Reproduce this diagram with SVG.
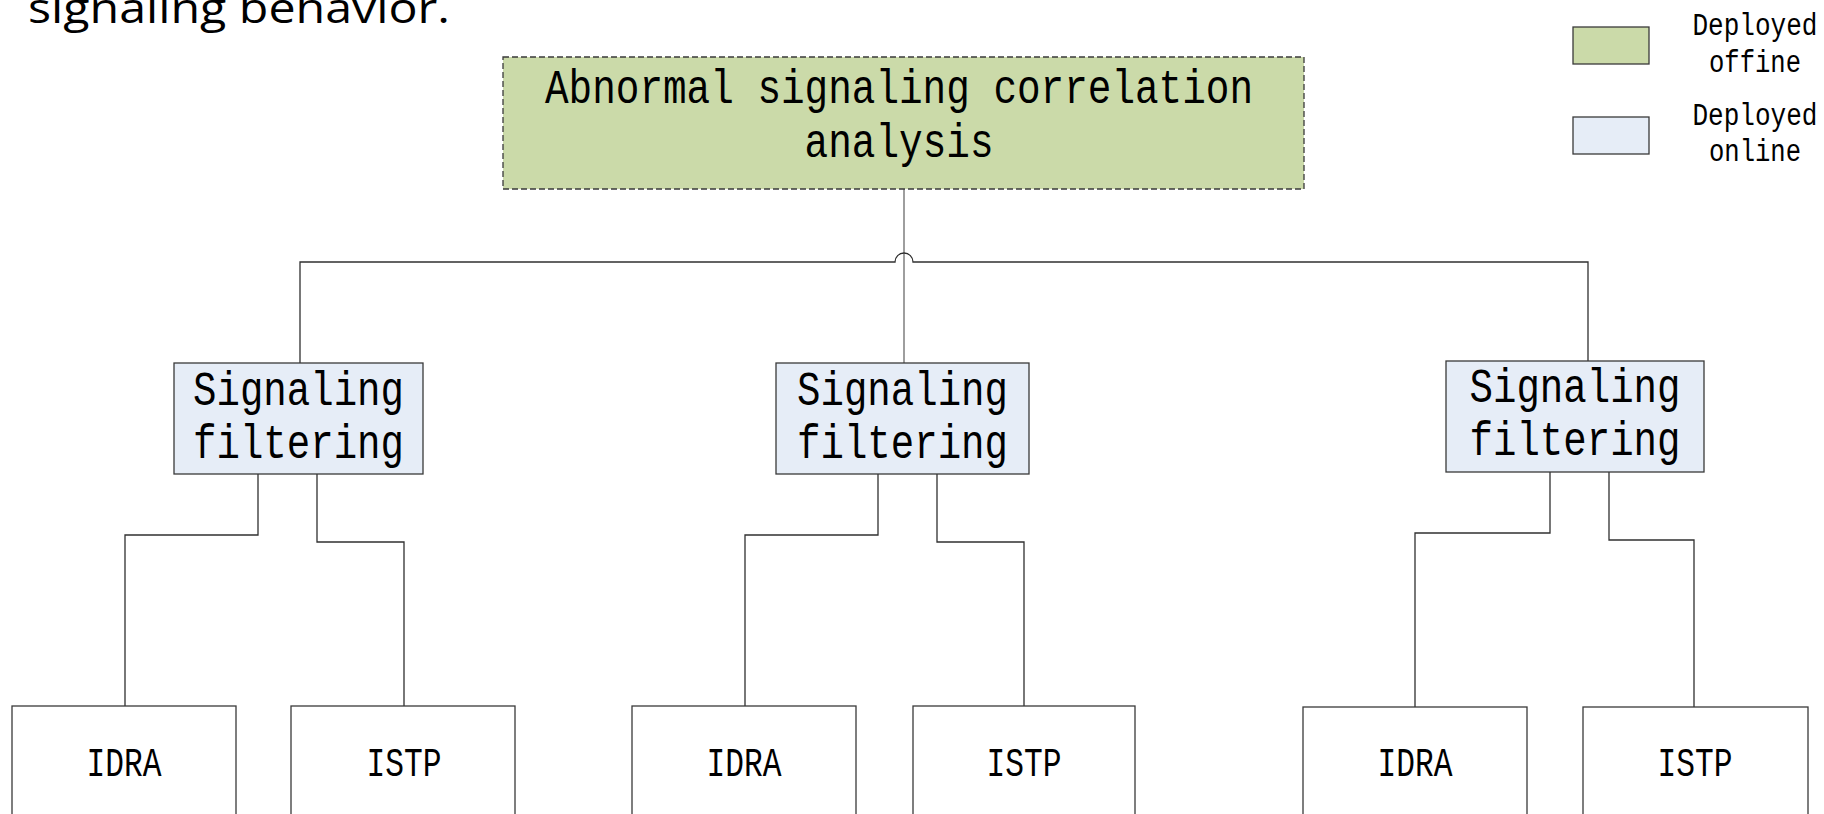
<svg xmlns="http://www.w3.org/2000/svg" width="1824" height="814" viewBox="0 0 1824 814">
<style>
.box{stroke:#3a3a3a;stroke-width:1.3}
.off{fill:#cbdaa9}
.on{fill:#e6edf7}
.leaf{fill:#ffffff}
.dash{stroke-dasharray:6 3}
.t{font-family:"Liberation Mono","DejaVu Sans Mono",monospace;fill:#000;text-anchor:middle}
.big{font-size:48px}
.mid{font-size:41px}
.leg{font-size:31px}
.conn{fill:none;stroke:#303030;stroke-width:1.3}
</style>
<rect width="1824" height="814" fill="#ffffff"/>
<text x="28" y="23" font-family="'Open Sans','Noto Sans',sans-serif" font-size="42" textLength="422" lengthAdjust="spacingAndGlyphs" fill="#000">signaling behavior.</text>

<g id="legend">
<rect class="box off" x="1573" y="27" width="76" height="37"/>
<rect class="box on" x="1573" y="117" width="76" height="37"/>
<text class="t leg" x="1755" y="35" textLength="125" lengthAdjust="spacingAndGlyphs">Deployed</text>
<text class="t leg" x="1755" y="72" textLength="92" lengthAdjust="spacingAndGlyphs">offine</text>
<text class="t leg" x="1755" y="125" textLength="125" lengthAdjust="spacingAndGlyphs">Deployed</text>
<text class="t leg" x="1755" y="161" textLength="92" lengthAdjust="spacingAndGlyphs">online</text>
</g>

<g id="connectors">
<path class="conn" d="M904,189 V363" style="stroke:#6a6a6a"/>
<path class="conn" d="M300,363 V262 H895 A9,9 0 0 1 913,262 H1588 V361"/>
<path class="conn" d="M258,474 V535 H125 V706"/>
<path class="conn" d="M317,474 V542 H404 V706"/>
<path class="conn" d="M878,474 V535 H745 V706"/>
<path class="conn" d="M937,474 V542 H1024 V706"/>
<path class="conn" d="M1550,472 V533 H1415 V707"/>
<path class="conn" d="M1609,472 V540 H1694 V707"/>
</g>

<g id="correlation">
<rect class="box off dash" x="503" y="57" width="801" height="132"/>
<text class="t big" x="899" y="103" textLength="708" lengthAdjust="spacingAndGlyphs">Abnormal signaling correlation</text>
<text class="t big" x="899" y="157" textLength="189" lengthAdjust="spacingAndGlyphs">analysis</text>
</g>

<g id="filter1">
<rect class="box on" x="174" y="363" width="249" height="111"/>
<text class="t big" x="298.5" y="405" textLength="211" lengthAdjust="spacingAndGlyphs">Signaling</text>
<text class="t big" x="298.5" y="458" textLength="211" lengthAdjust="spacingAndGlyphs">filtering</text>
</g>
<g id="filter2">
<rect class="box on" x="776" y="363" width="253" height="111"/>
<text class="t big" x="902.5" y="405" textLength="211" lengthAdjust="spacingAndGlyphs">Signaling</text>
<text class="t big" x="902.5" y="458" textLength="211" lengthAdjust="spacingAndGlyphs">filtering</text>
</g>
<g id="filter3">
<rect class="box on" x="1446" y="361" width="258" height="111"/>
<text class="t big" x="1575" y="402" textLength="211" lengthAdjust="spacingAndGlyphs">Signaling</text>
<text class="t big" x="1575" y="455" textLength="211" lengthAdjust="spacingAndGlyphs">filtering</text>
</g>

<g id="idra1">
<rect class="box leaf" x="12" y="706" width="224" height="130"/>
<text class="t mid" x="124" y="776" textLength="75" lengthAdjust="spacingAndGlyphs">IDRA</text>
</g>
<g id="istp1">
<rect class="box leaf" x="291" y="706" width="224" height="130"/>
<text class="t mid" x="404" y="776" textLength="75" lengthAdjust="spacingAndGlyphs">ISTP</text>
</g>
<g id="idra2">
<rect class="box leaf" x="632" y="706" width="224" height="130"/>
<text class="t mid" x="744" y="776" textLength="75" lengthAdjust="spacingAndGlyphs">IDRA</text>
</g>
<g id="istp2">
<rect class="box leaf" x="913" y="706" width="222" height="130"/>
<text class="t mid" x="1024" y="776" textLength="75" lengthAdjust="spacingAndGlyphs">ISTP</text>
</g>
<g id="idra3">
<rect class="box leaf" x="1303" y="707" width="224" height="130"/>
<text class="t mid" x="1415" y="776" textLength="75" lengthAdjust="spacingAndGlyphs">IDRA</text>
</g>
<g id="istp3">
<rect class="box leaf" x="1583" y="707" width="225" height="130"/>
<text class="t mid" x="1695" y="776" textLength="75" lengthAdjust="spacingAndGlyphs">ISTP</text>
</g>
</svg>
